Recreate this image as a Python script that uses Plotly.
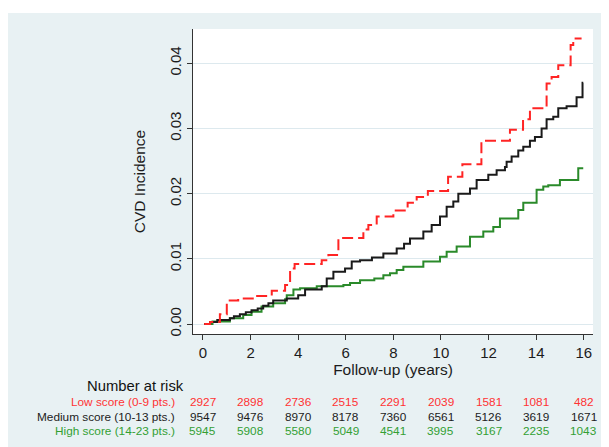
import plotly.graph_objects as go

# ---- data ----
low_t = [0.05, 0.3, 0.71, 1.0, 1.48, 2.18, 2.89, 3.45, 3.66, 3.85, 4.99, 5.27, 5.69, 6.74, 6.95, 7.3,
         8.0, 8.6, 8.98, 9.45, 10.3, 10.9, 11.7, 12.9, 13.45, 13.74, 14.44, 14.65, 14.93, 15.45, 15.56, 15.91]
low_v = [0, 0.0003, 0.0015, 0.0036, 0.0039, 0.0043, 0.0051, 0.0060, 0.0085, 0.0092, 0.0098, 0.0106, 0.0132,
         0.0145, 0.0152, 0.0165, 0.0174, 0.0186, 0.0195, 0.0204, 0.0226, 0.0245, 0.0281, 0.0298, 0.0314,
         0.0331, 0.0369, 0.0379, 0.0397, 0.0428, 0.0438, 0.0438]

med_t = [0.05, 0.3, 0.6, 1.13, 1.3, 1.55, 1.8, 2.04, 2.3, 2.53, 2.75, 2.95, 3.52, 4.0, 4.29, 4.99, 5.2, 5.48,
         5.97, 6.25, 6.6, 7.1, 7.58, 8.14, 8.45, 8.7, 9.26, 9.61, 9.96, 10.24, 10.52, 10.73, 11.22, 11.5,
         11.99, 12.34, 12.69, 12.76, 12.97, 13.25, 13.46, 13.74, 13.95, 14.23, 14.44, 14.72, 14.93, 15.28,
         15.7, 15.95, 15.98]
med_v = [0, 0.0003, 0.0006, 0.0009, 0.0012, 0.0015, 0.0018, 0.0021, 0.0024, 0.0028, 0.0032, 0.0036, 0.0039,
         0.0044, 0.0053, 0.0058, 0.0070, 0.0080, 0.0085, 0.0096, 0.0098, 0.0102, 0.0108, 0.0116, 0.0123,
         0.0131, 0.0142, 0.0152, 0.0165, 0.0180, 0.0188, 0.0200, 0.0208, 0.0221, 0.0229, 0.0236, 0.0241,
         0.0249, 0.0257, 0.0266, 0.0272, 0.0281, 0.0287, 0.0300, 0.0314, 0.0318, 0.0331, 0.0334, 0.0348,
         0.0370, 0.0370]

high_t = [0.05, 0.4, 1.13, 1.69, 2.04, 2.46, 2.95, 3.45, 3.52, 3.8, 4.08, 4.78, 5.9, 6.18, 6.6, 7.2, 7.58,
          7.86, 8.14, 8.42, 9.26, 9.96, 10.24, 10.66, 11.22, 11.78, 12.2, 12.48, 13.25, 13.46, 14.02, 14.3,
          14.51, 15.0, 15.77, 15.98]
high_v = [0, 0.0004, 0.0009, 0.0014, 0.0019, 0.0027, 0.0032, 0.0038, 0.0044, 0.0053, 0.0055, 0.0058, 0.0060,
          0.0063, 0.0067, 0.0070, 0.0075, 0.0078, 0.0083, 0.0088, 0.0096, 0.0103, 0.0111, 0.0119, 0.0134,
          0.0142, 0.0149, 0.0162, 0.0175, 0.0186, 0.0206, 0.0211, 0.0213, 0.0221, 0.0239, 0.0239]

risk_times = [0, 2, 4, 6, 8, 10, 12, 14, 16]
risk_low = [2927, 2898, 2736, 2515, 2291, 2039, 1581, 1081, 482]
risk_med = [9547, 9476, 8970, 8178, 7360, 6561, 5126, 3619, 1671]
risk_high = [5945, 5908, 5580, 5049, 4541, 3995, 3167, 2235, 1043]

group_labels = ["Low score (0-9 pts.)", "Medium score (10-13 pts.)", "High score (14-23 pts.)"]
x_ticks = [0, 2, 4, 6, 8, 10, 12, 14, 16]
y_ticks = [0.00, 0.01, 0.02, 0.03, 0.04]

# ---- styles ----
RED = "#ff2424"
BLACK = "#1a1a1a"
GREEN = "#2a8a2a"
RED_TXT = "#ff3333"
GREEN_TXT = "#33a033"
TXT = "#1c1c1c"
BG = "#e8f1f3"
FONT = "Arial, Liberation Sans, sans-serif"

OFF = 8                      # page body margin of the browser
WIN_W, WIN_H = 609, 447
W, H = WIN_W - OFF, WIN_H - OFF
# plot area in window pixels
PL, PR, PT, PB = 193, 593, 29, 334
L, R, T, B = PL - OFF, W - (PR - OFF), PT - OFF, H - (PB - OFF)
PW, PH = PR - PL, PB - PT

def px_to_paper_x(px):      # window pixel -> paper fraction
    return (px - PL) / PW

def py_to_paper_y(py):
    return (PB - py) / PH

fig = go.Figure()
fig.add_trace(go.Scatter(x=high_t, y=high_v, mode="lines", line=dict(color=GREEN, width=2, shape="hv"),
                         showlegend=False, hoverinfo="skip"))
fig.add_trace(go.Scatter(x=med_t, y=med_v, mode="lines", line=dict(color=BLACK, width=2, shape="hv"),
                         showlegend=False, hoverinfo="skip"))
fig.add_trace(go.Scatter(x=low_t, y=low_v, mode="lines",
                         line=dict(color=RED, width=2, shape="hv", dash="11px,5px"),
                         showlegend=False, hoverinfo="skip"))

# background: gray frame (white strip on top), white plot area
fig.add_shape(type="rect", xref="paper", yref="paper",
              x0=px_to_paper_x(0), x1=px_to_paper_x(WIN_W + 10), y0=py_to_paper_y(13), y1=py_to_paper_y(WIN_H + 10),
              fillcolor=BG, line=dict(width=0), layer="below")
fig.add_shape(type="rect", xref="paper", yref="paper", x0=0, x1=1, y0=0, y1=1,
              fillcolor="white", line=dict(width=0), layer="below")

# Number at risk table
ann = []
ann.append(dict(text="Number at risk", xref="paper", yref="paper", x=px_to_paper_x(135),
                y=py_to_paper_y(386), xanchor="center", yanchor="middle", showarrow=False,
                font=dict(family=FONT, size=14.8, color="#111")))
rows = [(risk_low, RED_TXT, 402), (risk_med, TXT, 416.7), (risk_high, GREEN_TXT, 431)]
for (vals, col, py), lab in zip(rows, group_labels):
    ann.append(dict(text=lab, xref="paper", yref="paper", x=px_to_paper_x(177), y=py_to_paper_y(py),
                    xanchor="right", yanchor="middle", showarrow=False,
                    font=dict(family=FONT, size=11.8, color=col)))
    for t, v in zip(risk_times, vals):
        ann.append(dict(text=str(v), xref="x", yref="paper", x=t, y=py_to_paper_y(py),
                        xanchor="center", yanchor="middle", showarrow=False,
                        font=dict(family=FONT, size=11.8, color=col)))

fig.update_layout(
    width=W, height=H,
    margin=dict(l=L, r=R, t=T, b=B, pad=0),
    paper_bgcolor="white", plot_bgcolor="white",
    annotations=ann,
    font=dict(family=FONT, size=15, color=TXT),
    xaxis=dict(range=[-0.42, 16.39], tickmode="array", tickvals=x_ticks,
               ticktext=[str(v) for v in x_ticks],
               showgrid=False, zeroline=False, showline=True, linecolor="#333", linewidth=1,
               ticks="outside", ticklen=5, tickcolor="#333", tickwidth=1,
               tickfont=dict(family=FONT, size=15, color=TXT),
               title=dict(text="Follow-up (years)", standoff=1,
                          font=dict(family=FONT, size=15.5, color=TXT))),
    yaxis=dict(range=[-0.00153, 0.04525], tickmode="array", tickvals=y_ticks,
               ticktext=["%.2f" % v for v in y_ticks], tickangle=-90,
               showgrid=True, gridcolor="#dde9ee", gridwidth=1,
               zeroline=False, showline=True, linecolor="#333", linewidth=1,
               ticks="outside", ticklen=5, tickcolor="#333", tickwidth=1,
               tickfont=dict(family=FONT, size=15, color=TXT),
               title=dict(text="CVD Incidence", standoff=17,
                          font=dict(family=FONT, size=15.5, color=TXT))),
)

fig.write_html("out.html")
